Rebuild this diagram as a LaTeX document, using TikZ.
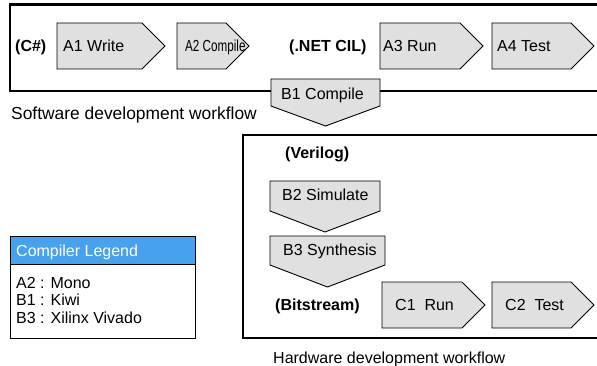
\documentclass[tikz,border=0pt]{standalone}
\usepackage{graphicx}
\usepackage{fontspec}
\setmainfont{Liberation Sans}
\begin{document}
\begin{tikzpicture}[x=1pt,y=-1pt,
  chev/.style={draw=black,fill=chevgray,line width=0.9pt,line join=miter},
  frame/.style={draw=black,line width=2.2pt},
  lbl/.style={anchor=base west,inner sep=0pt,font=\fontsize{16}{19}\selectfont},
  blbl/.style={lbl,font=\fontsize{16}{19}\selectfont\bfseries},
]
\definecolor{chevgray}{RGB}{224,224,224}
\definecolor{legblue}{RGB}{72,161,236}
\clip (0,0) rectangle (597,366);
\useasboundingbox (0,0) rectangle (597,366);
% horizontal chevron: left, rect right, tip, top, bottom
\newcommand\hchev[5]{\draw[chev] (#1,#4) -- (#2,#4) -- (#3,{(#4+#5)/2}) -- (#2,#5) -- (#1,#5) -- cycle;}
% vertical chevron: left, right, top, rect bottom, tip
\newcommand\vchev[5]{\draw[chev] (#1,#3) -- (#2,#3) -- (#2,#4) -- ({(#1+#2)/2},#5) -- (#1,#4) -- cycle;}

% software frame
\draw[frame] (610,4.5) -- (10,4.5) -- (10,91) -- (610,91);
\hchev{57}{142}{165}{23}{69}
\hchev{177}{226}{249}{23}{69}
\hchev{380}{460}{483}{23}{69}
\hchev{492}{571}{594}{23}{69}
\node[blbl] (cs) at (15,51.7) {(C\#)};
\node[lbl] (a1) at (63,51.7) {A1 Write};
\node[lbl] (a2) at (185,51.7) {\scalebox{0.73}[1]{A2 Compile}};
\node[blbl] (cil) at (289,51.7) {(.NET CIL)};
\node[lbl] (a3) at (383,51.7) {A3 Run};
\node[lbl] (a4) at (497,51.7) {A4 Test};
\node[lbl,font=\fontsize{17.4}{20}\selectfont] (sw) at (11,119.2) {Software development workflow};

% B1
\vchev{271}{380}{79}{106}{126}
\node[lbl] (b1) at (281,99.7) {B1 Compile};

% hardware frame
\draw[frame] (610,135) -- (243,135) -- (243,338) -- (610,338);
\node[blbl] (ver) at (285,158.7) {(Verilog)};
\vchev{270}{380}{181}{211}{232}
\node[lbl] (b2) at (282,200.7) {B2 Simulate};
\vchev{270}{385}{236}{265}{287}
\node[lbl] (b3) at (283,255.7) {B3 Synthesis};
\node[blbl] (bit) at (275,310.7) {(Bitstream)};
\hchev{382}{462}{485}{282}{328}
\hchev{492}{571}{594}{282}{328}
\node[lbl] (c1) at (395,310.7) {C1~~Run};
\node[lbl] (c2) at (505,310.7) {C2~~Test};
\node[lbl] (hw) at (273,363.7) {Hardware development workflow};

% legend
\draw[fill=legblue,draw=black,line width=0.8pt] (10,236) rectangle (195,264);
\draw[draw=black,line width=0.8pt] (10,264) rectangle (195,338);
\node[lbl,text=white] (lh) at (16,256.7) {Compiler Legend};
\node[lbl] (l1) at (16,288.7) {A2 : Mono};
\node[lbl] (l2) at (16,305.7) {B1 : Kiwi};
\node[lbl] (l3) at (16,323.7) {B3 : Xilinx Vivado};
\end{tikzpicture}
\end{document}
